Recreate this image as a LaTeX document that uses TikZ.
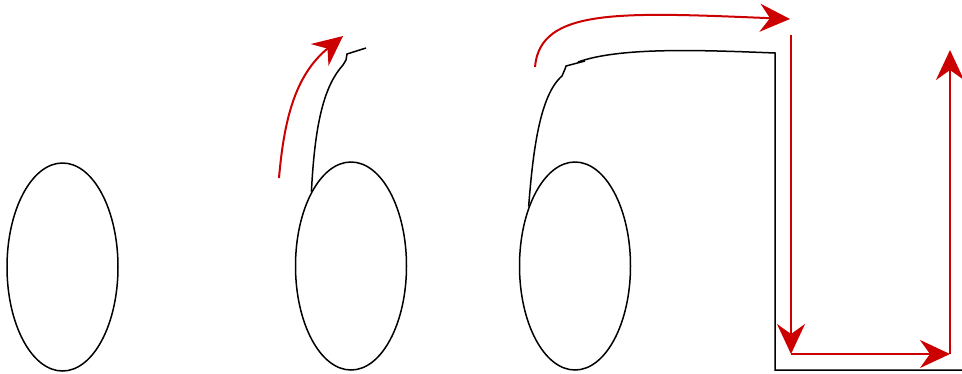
\documentclass[tikz,border=0pt]{standalone}
\usepackage{tikz}
\usepackage{xcolor}
\usetikzlibrary{arrows.meta,shapes.geometric,calc}
\definecolor{moveRed}{HTML}{CC0000}

\begin{document}
\begin{tikzpicture}[x=1pt, y=-1pt,
  blob/.style={ellipse, draw, line width=1.5pt, minimum width=111pt,
               minimum height=208pt, inner sep=0pt},
  trace/.style={line width=1.5pt, black},
  move/.style={line width=2pt, moveRed,
               -{Stealth[length=30pt, width=28pt, inset=10pt]}}
]
\useasboundingbox (0,0) rectangle (962,373);

% three rounds
\node[blob] (e1) at (62.5,267) {};
\node[blob] (e2) at (351,266) {};
\node[blob] (e3) at (575,266) {};

% free ends
\coordinate (t2) at (366,48);
\coordinate (t3) at (585,61);
\coordinate (c1) at (775,53);
\coordinate (c2) at (775,370);
\coordinate (c3) at (962,370);
\coordinate (s1) at (279,178);
\coordinate (h1) at (343,36);
\coordinate (s2) at (535,67);
\coordinate (h2) at (790,19);
\coordinate (p1) at (791,35);
\coordinate (p2) at (791,354);
\coordinate (p3) at (950,354);
\coordinate (p4) at (950,50);

% black traces
\draw[trace] (e2.118) .. controls (315,120) and (325,85) .. (343,65)
  -- (346,60) -- (347,54) -- (t2);
\draw[trace] (e3.128) .. controls (533,150) and (540,95) .. (562,76)
  -- (565,69) -- (566,66) -- (t3);
\draw[trace] (578,62) .. controls (620,47) and (700,50) .. (c1) -- (c2) -- (c3);

% red moves
\draw[move] (s1) .. controls (284,120) and (295,75) .. (h1);
\draw[move] (s2) .. controls (540,8) and (620,12) .. (h2);
\draw[move] (p1) -- (p2);
\draw[move] (p2) -- (p3);
\draw[move] (p3) -- (p4);
\end{tikzpicture}
\end{document}
